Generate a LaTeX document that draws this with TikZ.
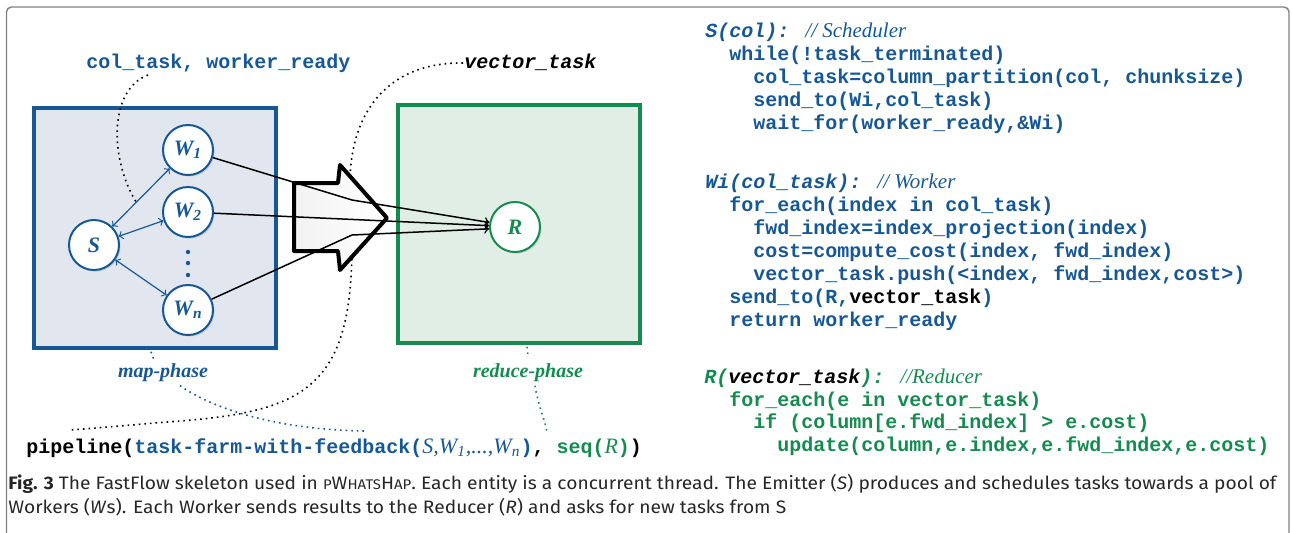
\documentclass[tikz,border=0pt]{standalone}
\usepackage{fontspec}
\setmainfont{Liberation Serif}
\newfontfamily\codefont{Liberation Mono}
\newfontfamily\capfont{Fira Sans}
\usetikzlibrary{arrows,calc,shadows}
\definecolor{ffblue}{RGB}{22,88,150}
\definecolor{ffgreen}{RGB}{20,140,80}
\definecolor{mapfill}{RGB}{226,231,239}
\definecolor{redfill}{RGB}{224,238,229}
\newcommand\cmt[1]{{\rmfamily\mdseries\itshape\fontsize{10.5}{12}\selectfont #1}}
\newcommand\argit[1]{{\rmfamily\mdseries\itshape\fontsize{11}{12}\selectfont #1}}
\newcommand\smc[1]{{\fontsize{7}{8}\selectfont #1}}

\begin{document}
\begin{tikzpicture}[x=0.5pt,y=-0.5pt]
\tikzstyle{every node}=[inner sep=0pt]
\tikzstyle{proc}=[circle, minimum size=25pt, draw=ffblue, line width=1pt, fill=white, text=ffblue, font=\rmfamily\bfseries\itshape\fontsize{11}{12}\selectfont, drop shadow={shadow xshift=0.8pt, shadow yshift=-0.8pt, opacity=0.25}]
\tikzstyle{phase}=[rectangle, line width=1.8pt, minimum width=121pt]
\tikzstyle{codeline}=[anchor=base west, font=\codefont\bfseries\fontsize{10}{12}\selectfont]
\tikzstyle{lbl}=[anchor=base, font=\rmfamily\bfseries\itshape\fontsize{10}{12}\selectfont]
\tikzstyle{leader}=[dotted, line width=0.8pt]
\useasboundingbox (0,0) rectangle (1292,532);
\draw[gray, line width=0.7pt, rounded corners=2.5pt] (6.5,7) rectangle (1289,600);
\draw (155,228) node (mapbox) [phase, draw=ffblue, fill=mapfill, minimum height=120pt] {};
\draw (519,224) node (redbox) [phase, draw=ffgreen, fill=redfill, minimum height=119pt] {};
\draw (94,245) node (S) [proc] {S};
\draw (188,150) node (W1) [proc] {W\textsubscript{1}};
\draw (188,212) node (W2) [proc] {W\textsubscript{2}};
\draw (188,310) node (Wn) [proc] {W\textsubscript{n}};
\draw (515,227) node (R) [proc, draw=ffgreen, text=ffgreen] {R};
\foreach \y in {252,263,275} \fill[ffblue] (188,\y) circle (1.1pt);
\draw (86,68) node (colLbl) [codeline, text=ffblue] {col\_task, worker\_ready};
\draw (464,68) node (vecLbl) [codeline, font=\codefont\bfseries\itshape\fontsize{10}{12}\selectfont] {vector\_task};
\draw (163,377) node (mapLbl) [lbl, text=ffblue] {map-phase};
\draw (528,377) node (redLbl) [lbl, text=ffgreen] {reduce-phase};
\draw (26,453) node (pipe) [codeline] {pipeline(\textcolor{ffblue}{task-farm-with-feedback(\argit{S,W\textsubscript{1},...,W\textsubscript{n}})}, \textcolor{ffgreen}{seq(\argit{R})})};
\coordinate (colEnd) at ($(S)!0.45!(W1)$);
\draw[leader] ($(colLbl.base west)+(62,7)$) .. controls (108,90) and (110,160) .. (colEnd);
\draw[leader] ($(vecLbl.base west)+(-1,-5)$) .. controls (390,62) and (348,110) .. (350,190) .. controls (362,380) and (320,410) .. (180,421) .. controls (140,424) and (100,428) .. ($(pipe.base west)+(43,-23)$);
\draw[leader, ffblue] ($(mapbox.south)+(-4,2)$) -- ++(3,8);
\draw[leader, ffblue] ($(mapLbl.south)+(17,4)$) .. controls (215,410) and (280,430) .. ($(pipe.base west)+(340,-22)$);
\draw[leader, ffgreen] ($(redbox.south)+(8,2)$) -- ++(1,10);
\draw[leader, ffgreen] ($(redLbl.south)+(7,4)$) .. controls (538,405) and (545,420) .. ($(pipe.base west)+(521,-21)$);
\draw[line width=2pt, line join=round, left color=gray!10, right color=white] (294,183) -- (338,183) -- (340,165) -- (387,218) -- (340,270) -- (338,251) -- (294,251) -- cycle;
\coordinate (b1) at (352,200);
\coordinate (bn) at (352,235);
\draw[->, line width=0.75pt] (W1) -- (b1) -- (R.170);
\draw[->, line width=0.75pt] (W2) -- (R.177);
\draw[->, line width=0.75pt] (Wn) -- (bn) -- (R.184);
\draw[<->, ffblue, line width=0.6pt] (S) -- (W1);
\draw[<->, ffblue, line width=0.6pt] (S) -- (W2);
\draw[<->, ffblue, line width=0.6pt] (S) -- (Wn);
\draw (705,37) node (sc0) [codeline, text=ffblue] {\itshape S(col): \cmt{// Scheduler}};
\draw (729,60) node (sc1) [codeline, text=ffblue] {while(!task\_terminated)};
\draw (753,83) node (sc2) [codeline, text=ffblue] {col\_task=column\_partition(col, chunksize)};
\draw (753,106) node (sc3) [codeline, text=ffblue] {send\_to(Wi,col\_task)};
\draw (753,129) node (sc4) [codeline, text=ffblue] {wait\_for(worker\_ready,\&Wi)};
\draw (705,188) node (wk0) [codeline, text=ffblue] {\itshape Wi(col\_task): \cmt{// Worker}};
\draw (729,211) node (wk1) [codeline, text=ffblue] {for\_each(index in col\_task)};
\draw (753,234) node (wk2) [codeline, text=ffblue] {fwd\_index=index\_projection(index)};
\draw (753,257) node (wk3) [codeline, text=ffblue] {cost=compute\_cost(index, fwd\_index)};
\draw (753,280) node (wk4) [codeline, text=ffblue] {vector\_task.push(<index, fwd\_index,cost>)};
\draw (729,303) node (wk5) [codeline, text=ffblue] {send\_to(R,\textcolor{black}{vector\_task})};
\draw (729,326) node (wk6) [codeline, text=ffblue] {return worker\_ready};
\draw (704,383) node (rd0) [codeline, text=ffgreen] {\itshape R(\textcolor{black}{vector\_task}): \cmt{//Reducer}};
\draw (729,406) node (rd1) [codeline, text=ffgreen] {for\_each(e in vector\_task)};
\draw (753,428) node (rd2) [codeline, text=ffgreen] {if (column[e.fwd\_index] > e.cost)};
\draw (777,451) node (rd3) [codeline, text=ffgreen] {update(column,e.index,e.fwd\_index,e.cost)};
\draw (8,489) node (cap) [anchor=base west, text=black!85, font=\capfont\fontsize{9}{12.15}\selectfont] {\resizebox{634pt}{\height}{\begin{tabular}[t]{@{}l@{}}\textbf{Fig. 3} The FastFlow skeleton used in \smc{P}W\smc{HATS}H\smc{AP}. Each entity is a concurrent thread. The Emitter (\textit{S}) produces and schedules tasks towards a pool of\\Workers (\textit{W}s). Each Worker sends results to the Reducer (\textit{R}) and asks for new tasks from S\end{tabular}}};
\end{tikzpicture}
\end{document}
